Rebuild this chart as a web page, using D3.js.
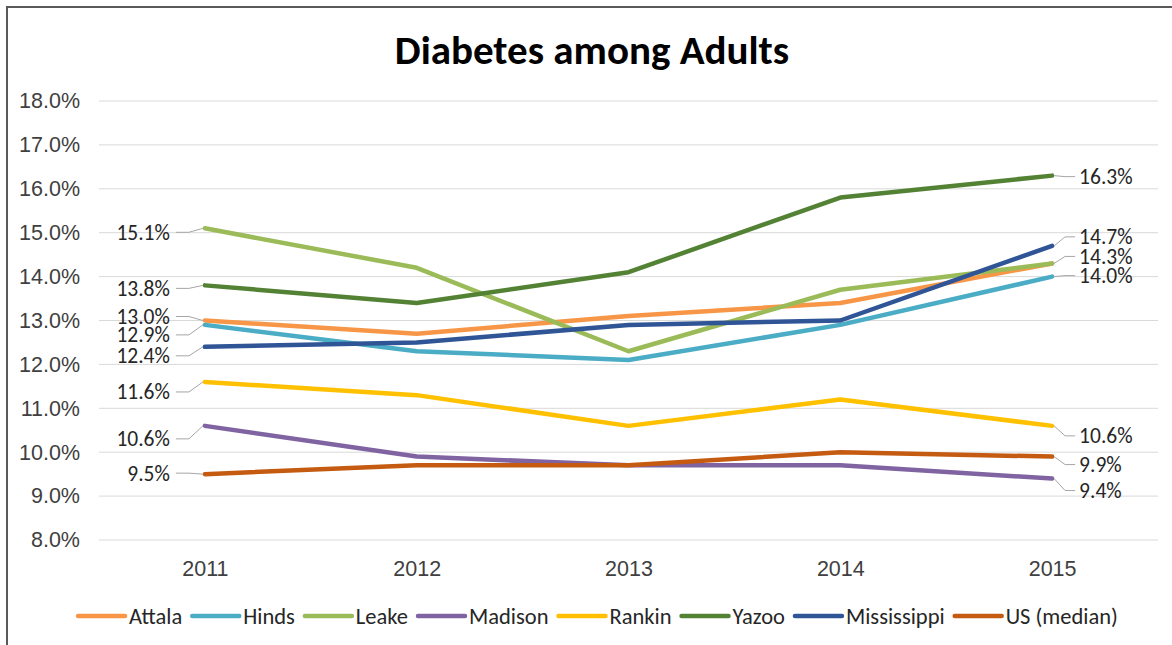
<!DOCTYPE html>
<html>
<head>
<meta charset="utf-8">
<script src="https://cdn.jsdelivr.net/npm/d3@7"></script>
<style>
  html, body { margin: 0; padding: 0; background: #ffffff; }
  svg { display: block; font-family: Carlito, Calibri, Lato, "Open Sans", sans-serif; }
</style>
</head>
<body>
<svg id="chart" width="1172" height="645"></svg>
<script>
// Diabetes prevalence among adults (%), 2011-2015
const years = ["2011", "2012", "2013", "2014", "2015"];
const yTicks = [8, 9, 10, 11, 12, 13, 14, 15, 16, 17, 18];

const attala      = [13.0, 12.7, 13.1, 13.4, 14.3];
const hinds       = [12.9, 12.3, 12.1, 12.9, 14.0];
const leake       = [15.1, 14.2, 12.3, 13.7, 14.3];
const madison     = [10.6,  9.9,  9.7,  9.7,  9.4];
const rankin      = [11.6, 11.3, 10.6, 11.2, 10.6];
const yazoo       = [13.8, 13.4, 14.1, 15.8, 16.3];
const mississippi = [12.4, 12.5, 12.9, 13.0, 14.7];
const usMedian    = [ 9.5,  9.7,  9.7, 10.0,  9.9];

const seriesNames = ["Attala", "Hinds", "Leake", "Madison", "Rankin", "Yazoo", "Mississippi", "US (median)"];
const seriesValues = [attala, hinds, leake, madison, rankin, yazoo, mississippi, usMedian];
const seriesColors = ["#F79646", "#4BACC6", "#9BBB59", "#8064A2", "#FFC000", "#548235", "#2F5597", "#C55A11"];

// Which end points carry a value label, with vertical nudges (px) for the label text
const labelNudges = {
  "Attala":      { first: -4 },
  "Hinds":       { first: 10, last: -1 },
  "Leake":       { first: 4,  last: -7 },
  "Madison":     { first: 13, last: 12 },
  "Rankin":      { first: 10, last: 10 },
  "Yazoo":       { first: 3,  last: 1 },
  "Mississippi": { first: 9,  last: -9 },
  "US (median)": { first: -1, last: 8 }
};

const svg = d3.select("#chart");

// chart frame
svg.append("path")
  .attr("d", "M7,660 L7,7 L1190,7")
  .attr("fill", "none")
  .attr("stroke", "#595959")
  .attr("stroke-width", 2);

const x = d3.scalePoint().domain(years).range([99, 1158]).padding(0.5);
const y = d3.scaleLinear().domain([8, 18]).range([540, 101]);

// title
svg.append("text")
  .attr("x", 592).attr("y", 64)
  .attr("text-anchor", "middle")
  .attr("font-size", 41).attr("font-weight", "bold")
  .attr("fill", "#000")
  .text("Diabetes among Adults");

// horizontal gridlines
svg.append("g")
  .selectAll("line")
  .data(yTicks)
  .join("line")
  .attr("x1", 99).attr("x2", 1158)
  .attr("y1", d => y(d)).attr("y2", d => y(d))
  .attr("stroke", "#d9d9d9").attr("stroke-width", 1);

// y axis labels
const yAxis = d3.axisLeft(y).tickValues(yTicks).tickSize(0).tickPadding(0)
  .tickFormat(d => d3.format(".1f")(d) + "%");
const gy = svg.append("g").attr("transform", "translate(80,0)").call(yAxis);
gy.select(".domain").remove();
gy.selectAll("text").attr("font-size", 21.5).attr("fill", "#404040")
  .attr("font-family", null);

// x axis labels
const xAxis = d3.axisBottom(x).tickSize(0).tickPadding(0);
const gx = svg.append("g").attr("transform", "translate(0,561)").call(xAxis);
gx.select(".domain").remove();
gx.selectAll("text").attr("font-size", 21.5).attr("fill", "#404040")
  .attr("font-family", null);

// series lines
const line = d3.line().x((d, i) => x(years[i])).y(d => y(d));
svg.append("g")
  .selectAll("path")
  .data(seriesValues)
  .join("path")
  .attr("d", d => line(d))
  .attr("fill", "none")
  .attr("stroke", (d, i) => seriesColors[i])
  .attr("stroke-width", 4.5)
  .attr("stroke-linecap", "round")
  .attr("stroke-linejoin", "round");

// end-point value labels with leader lines
const fmt = v => d3.format(".1f")(v) + "%";
const labelG = svg.append("g");
seriesNames.forEach((name, si) => {
  const vals = seriesValues[si];
  const nudge = labelNudges[name];
  if (nudge.first !== undefined) {
    const px = x(years[0]), py = y(vals[0]);
    const ly = py + nudge.first;
    const tx = px - 35;
    labelG.append("path")
      .attr("d", `M${tx + 6},${ly} L${tx + 19},${ly} L${px - 2},${py}`)
      .attr("fill", "none").attr("stroke", "#a6a6a6").attr("stroke-width", 1);
    labelG.append("text")
      .attr("x", tx).attr("y", ly).attr("dy", "0.35em")
      .attr("text-anchor", "end")
      .attr("font-size", 21.5).attr("fill", "#262626")
      .text(fmt(vals[0]));
  }
  if (nudge.last !== undefined) {
    const n = vals.length - 1;
    const px = x(years[n]), py = y(vals[n]);
    const ly = py + nudge.last;
    const tx = px + 27;
    labelG.append("path")
      .attr("d", `M${px + 2},${py} L${tx - 14},${ly} L${tx - 4},${ly}`)
      .attr("fill", "none").attr("stroke", "#a6a6a6").attr("stroke-width", 1);
    labelG.append("text")
      .attr("x", tx).attr("y", ly).attr("dy", "0.35em")
      .attr("text-anchor", "start")
      .attr("font-size", 21.5).attr("fill", "#262626")
      .text(fmt(vals[n]));
  }
});

// legend laid out left to right, centred under the chart
const legend = svg.append("g");
let cursor = 0;
seriesNames.forEach((name, i) => {
  const g = legend.append("g");
  g.append("line")
    .attr("x1", 2).attr("x2", 49).attr("y1", 0).attr("y2", 0)
    .attr("stroke", seriesColors[i]).attr("stroke-width", 4.5)
    .attr("stroke-linecap", "round");
  const t = g.append("text")
    .attr("x", 53).attr("y", 0).attr("dy", "0.35em")
    .attr("font-size", 22.5).attr("fill", "#262626")
    .text(name);
  const w = t.node().getComputedTextLength();
  g.attr("transform", `translate(${cursor},0)`);
  cursor += 53 + w + 8;
});
const legendWidth = cursor - 8;
legend.attr("transform", `translate(${597 - legendWidth / 2},616)`);
</script>
</body>
</html>
